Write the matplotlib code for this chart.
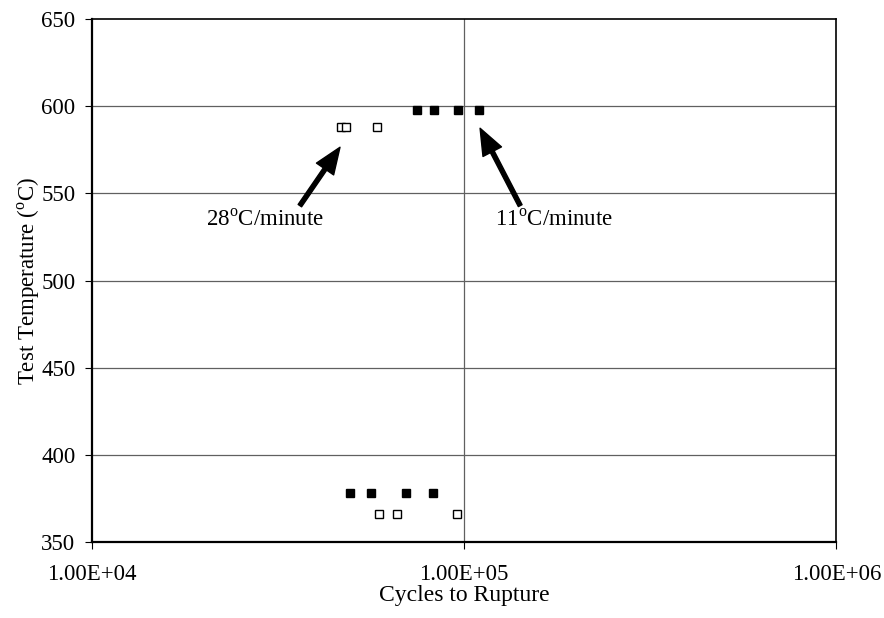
import matplotlib.pyplot as plt
import numpy as np

plt.rcParams['font.family'] = ['Liberation Serif', 'DejaVu Serif']
plt.rcParams['mathtext.fontset'] = 'custom'
plt.rcParams['mathtext.rm'] = 'Liberation Serif'

# 28 C/minute (open squares)
fast_cycles = [46700, 48200, 58300, 59000, 65900, 95600]
fast_temps = [588, 588, 588, 366, 366, 366]

# 11 C/minute (filled squares)
slow_cycles = [74600, 83000, 96400, 109700, 49400, 56100, 69800, 82400]
slow_temps = [598, 598, 598, 598, 378, 378, 378, 378]

x_ticks = [1e4, 1e5, 1e6]
x_tick_labels = ["1.00E+04", "1.00E+05", "1.00E+06"]
y_ticks = [350, 400, 450, 500, 550, 600, 650]

fig = plt.figure(figsize = (8.84, 6.18), dpi = 100)
ax = fig.add_axes([0.104, 0.123, 0.842, 0.846])

ax.set_xscale("log")
ax.set_xlim(1e4, 1e6)
ax.set_ylim(350, 650)

# grid lines
for y in y_ticks[1:-1]:
    ax.axhline(y, color = "#606060", linewidth = 0.9, zorder = 1)
ax.axvline(1e5, color = "#606060", linewidth = 0.9, zorder = 1)

ax.plot(fast_cycles, fast_temps, linestyle = "none", marker = "s", markersize = 5.5,
        markerfacecolor = "white", markeredgecolor = "black", markeredgewidth = 1.0, zorder = 3)
ax.plot(slow_cycles, slow_temps, linestyle = "none", marker = "s", markersize = 6,
        markerfacecolor = "black", markeredgecolor = "black", zorder = 3)

arrow = dict(facecolor = "black", edgecolor = "black", width = 3, headwidth = 15, headlength = 19, shrink = 0)
ax.annotate("", xy = (46400, 576.5), xytext = (36200, 543), arrowprops = arrow)
ax.annotate("", xy = (110400, 587.4), xytext = (141500, 543), arrowprops = arrow)
ax.text(29200, 534.6, r"28$^{\mathrm{o}}$C/minute", fontsize = 16.5, ha = "center", va = "center")
ax.text(174500, 534.6, r"11$^{\mathrm{o}}$C/minute", fontsize = 16.5, ha = "center", va = "center")

ax.set_xticks(x_ticks)
ax.set_xticklabels(x_tick_labels)
ax.xaxis.set_minor_locator(plt.NullLocator())
ax.set_yticks(y_ticks)
ax.tick_params(labelsize = 16.5, length = 5, width = 0.8, direction = "out")
ax.tick_params(axis = "x", pad = 11)
ax.tick_params(axis = "y", pad = 7)

ax.spines["left"].set_linewidth(1.6)
ax.spines["bottom"].set_linewidth(1.6)
ax.spines["top"].set_linewidth(1.2)
ax.spines["right"].set_linewidth(1.2)

ax.set_xlabel("Cycles to Rupture", fontsize = 17, labelpad = 0)
ax.set_ylabel(r"Test Temperature ($^{\mathrm{o}}$C)", fontsize = 16.5, labelpad = -1)

fig.savefig("out.png", dpi = 100)
